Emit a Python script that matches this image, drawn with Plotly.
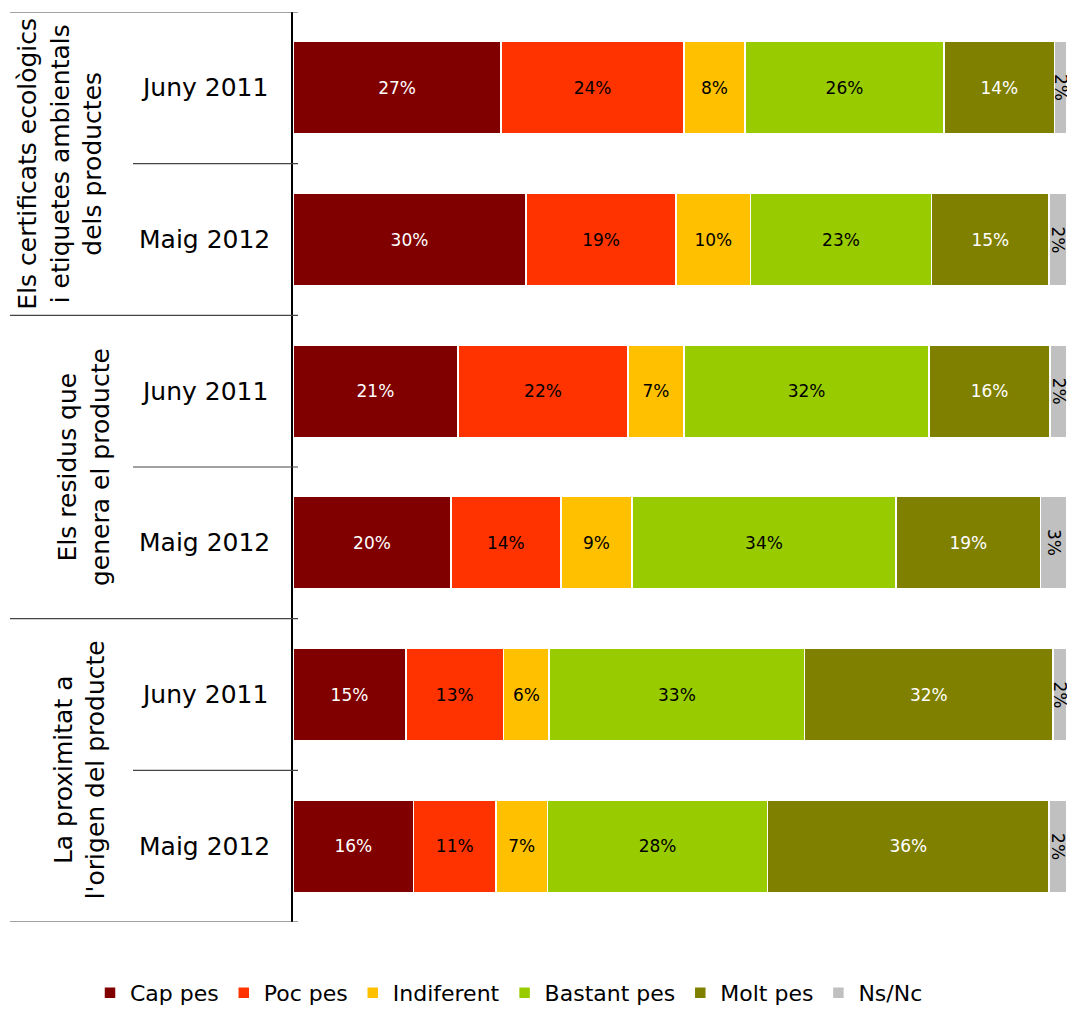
import plotly.graph_objects as go

# data (percent of answers)
groups = ["Els certificats ecològics<br>i etiquetes ambientals<br>dels productes",
          "Els residus que<br>genera el producte",
          "La proximitat a<br>l'origen del producte"]
periods = ["Juny 2011", "Maig 2012", "Juny 2011", "Maig 2012", "Juny 2011", "Maig 2012"]
series_names = ["Cap pes", "Poc pes", "Indiferent", "Bastant pes", "Molt pes", "Ns/Nc"]
cap_pes = [26.9, 30.1, 21.3, 20.4, 14.6, 15.6]
poc_pes = [23.6, 19.4, 22.0, 14.2, 12.6, 10.6]
indiferent = [7.9, 9.6, 7.2, 9.2, 5.9, 6.7]
bastant_pes = [25.7, 23.4, 31.7, 34.1, 33.0, 28.4]
molt_pes = [14.3, 15.2, 15.6, 18.7, 32.1, 36.4]
ns_nc = [1.6, 2.3, 2.2, 3.4, 1.8, 2.3]

colours = ["#800000", "#FF3300", "#FFC000", "#99CC00", "#808000", "#C0C0C0"]
text_colours = ["white", "black", "black", "black", "white", "black"]
FONT = "Century Gothic, DejaVu Sans, sans-serif"

all_series = [cap_pes, poc_pes, indiferent, bastant_pes, molt_pes, ns_nc]
rows = list(range(len(periods)))
fig = go.Figure()
for name, vals, col, tcol in zip(series_names, all_series, colours, text_colours):
    small = name == "Ns/Nc"
    fig.add_trace(go.Bar(
        y=rows, x=vals, name=name, orientation='h',
        marker=dict(color=col, line=dict(color='white', width=1.5)),
        width=0.61,
        texttemplate=None if small else '%{x:.0f}%',
        textposition='none' if small else 'inside',
        insidetextanchor='middle', constraintext='none',
        textfont=dict(color=tcol, size=17, family=FONT),
    ))

# Ns/Nc labels don't fit inside their thin bars -> rotated annotations
for i in rows:
    before = sum(s[i] for s in all_series[:-1])
    fig.add_annotation(x=before + ns_nc[i] / 2, y=i, xref='x', yref='y',
                       text='%.0f%%' % ns_nc[i], showarrow=False, textangle=90,
                       font=dict(size=17, color='black'))

def px_x(p):
    return (p - 293) / 774

fig.update_layout(
    barmode='stack',
    width=1067, height=1014,
    margin=dict(l=293, r=0, t=12, b=91),
    plot_bgcolor='white', paper_bgcolor='white',
    font=dict(family=FONT, color='black'),
    showlegend=True,
    legend=dict(orientation='h', xanchor='left', yanchor='middle',
                x=px_x(90), y=-0.078, font=dict(size=22), traceorder='normal'),
    xaxis=dict(range=[0, 100], showticklabels=False, showgrid=False,
               zeroline=False, showline=False),
    yaxis=dict(range=[5.5, -0.5], showticklabels=False, showgrid=False,
               zeroline=False, showline=True, linecolor='black', linewidth=1.5),
)

# period labels
for i, p in enumerate(periods):
    fig.add_annotation(x=px_x(204), y=i, xref='paper', yref='y', text=p,
                       showarrow=False, font=dict(size=25), xanchor='center')

# group labels (rotated)
group_x = [60, 84, 80]
for g, (txt, gx) in enumerate(zip(groups, group_x)):
    fig.add_annotation(x=px_x(gx), y=2 * g + 0.5, xref='paper', yref='y', text=txt,
                       showarrow=False, textangle=-90, font=dict(size=25),
                       xanchor='center', yanchor='middle')

# separator lines on the left
for yb in [-0.5, 1.5, 3.5, 5.5]:
    fig.add_shape(type='line', xref='paper', yref='y', x0=px_x(10), x1=px_x(298),
                  y0=yb, y1=yb, line=dict(color='#444444', width=1.2))
for yb in [0.5, 2.5, 4.5]:
    fig.add_shape(type='line', xref='paper', yref='y', x0=px_x(133), x1=px_x(298),
                  y0=yb, y1=yb, line=dict(color='#444444', width=1.2))

fig.write_html("out.html", config={'displayModeBar': False},
               post_script="document.body.style.margin='0';")
